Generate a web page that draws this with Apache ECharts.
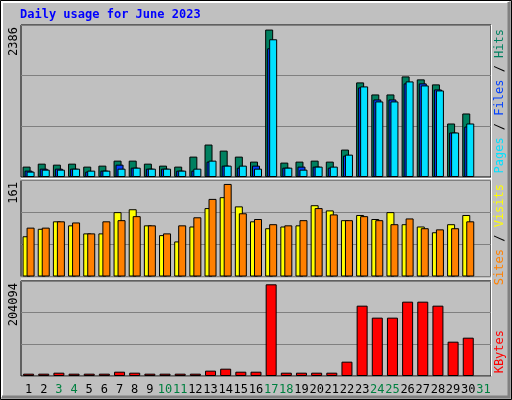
<!DOCTYPE html>
<html>
<head>
<meta charset="utf-8">
<script src="https://cdn.jsdelivr.net/npm/echarts@6/dist/echarts.min.js"></script>
<style>
  html, body { margin: 0; padding: 0; background: #c0c0c0; }
  #chart { width: 512px; height: 400px; }
</style>
</head>
<body>
<div id="chart"></div>
<script>
var days = ['1','2','3','4','5','6','7','8','9','10','11','12','13','14','15','16',
  '17','18','19','20','21','22','23','24','25','26','27','28','29','30','31'];
var weekend = ['3','4','10','11','17','18','24','25','31'];

var hits = [168,216,200,216,168,184,265,265,216,184,168,330,525,427,330,249,2386,233,249,265,249,444,1531,1336,1336,1628,1580,1499,866,1028,null];
var files = [103,135,135,135,87,103,200,151,135,135,103,103,249,184,151,184,2083,151,168,168,151,346,1450,1255,1255,1515,1515,1417,720,817,null];
var pages = [87,119,119,135,103,103,135,151,135,135,103,135,265,184,184,135,2229,151,119,168,168,362,1466,1223,1223,1547,1482,1401,720,866,null];

var sites = [70,83,96,89,75,75,112,117,89,72,61,87,119,138,122,96,84,87,89,124,115,98,107,100,112,91,87,77,91,107,null];
var visits = [85,85,96,94,75,96,98,105,89,75,89,103,135,161,110,100,91,89,98,119,108,98,105,98,91,101,84,82,84,96,null];

var kbytes = [5200,5200,7400,5200,5200,5200,9600,7400,5200,5200,5200,5200,11900,16300,9600,9600,204094,7400,7400,7400,7400,31900,156600,129900,129900,165500,165500,156600,76400,85300,null];

var maxLabels = ['2386', '161', '204094'];
var axisMax = [2460, 167, 211500];

var chart = echarts.init(document.getElementById('chart'));
var mono = 'DejaVu Sans Mono';

function yAxis(i) {
  return {
    type: 'value', gridIndex: i, min: 0, max: axisMax[i], interval: axisMax[i] / 3,
    axisLabel: { show: false }, axisLine: { show: false }, axisTick: { show: false },
    splitLine: { lineStyle: { color: '#808080', width: 1 } }
  };
}
function xAxis(i, labels) {
  return {
    type: 'category', gridIndex: i, data: days,
    axisLine: { show: false }, axisTick: { show: false },
    axisLabel: labels ? {
      show: true, interval: 0, margin: 8, fontFamily: mono, fontSize: 12,
      color: function (v) { return weekend.indexOf(v) >= 0 ? '#008040' : '#000'; }
    } : { show: false }
  };
}
function bar(name, data, ax, color, width, gap) {
  return {
    name: name, type: 'bar', xAxisIndex: ax, yAxisIndex: ax, data: data,
    barWidth: width, barGap: gap, animation: false,
    itemStyle: { color: color, borderColor: '#000', borderWidth: 1 }
  };
}
function vlabel(x, y, text, color) {
  return { type: 'text', x: x, y: y, rotation: Math.PI / 2,
    style: { text: text, fill: color, font: '12px ' + mono, align: 'right', verticalAlign: 'middle' } };
}

var grids = [
  { left: 21, right: 21, top: 25, height: 152 },
  { left: 21, right: 21, top: 180.5, height: 96 },
  { left: 21, right: 21, top: 281, height: 95 }
].map(function (g) {
  g.show = true; g.backgroundColor = '#c0c0c0'; g.borderColor = '#000'; g.borderWidth = 1;
  return g;
});

chart.setOption({
  backgroundColor: '#c0c0c0',
  grid: grids,
  xAxis: [xAxis(0, false), xAxis(1, false), xAxis(2, true)],
  yAxis: [yAxis(0), yAxis(1), yAxis(2)],
  series: [
    bar('Hits', hits, 0, '#008060', 8, '-75%'),
    bar('Files', files, 0, '#0040ff', 8, '-75%'),
    bar('Pages', pages, 0, '#00e0ff', 8, '-75%'),
    bar('Sites', sites, 1, '#ffff00', 8, '-50%'),
    bar('Visits', visits, 1, '#ff8000', 8, '-50%'),
    bar('KBytes', kbytes, 2, '#ff0000', 11, '0%')
  ],
  graphic: [
    { type: 'rect', shape: { x: 0.5, y: 0.5, width: 511, height: 399 }, style: { fill: 'none', stroke: '#000', lineWidth: 1 } },
    { type: 'polyline', shape: { points: [[2, 397], [2, 2], [509, 2]] }, style: { stroke: '#fff', lineWidth: 2 } },
    { type: 'polyline', shape: { points: [[509, 2], [509, 397], [2, 397]] }, style: { stroke: '#808080', lineWidth: 3 } },
    { type: 'text', x: 20, y: 9, style: { text: 'Daily usage for June 2023', fill: '#0000ff', font: 'bold 12px ' + mono } },
    { type: 'line', shape: { x1: 21, y1: 178.5, x2: 491, y2: 178.5 }, style: { stroke: '#fff', lineWidth: 1 } },
    { type: 'line', shape: { x1: 21, y1: 279, x2: 491, y2: 279 }, style: { stroke: '#fff', lineWidth: 1 } },
    { type: 'line', shape: { x1: 491.5, y1: 25, x2: 491.5, y2: 376 }, style: { stroke: '#fff', lineWidth: 1 } },
    { type: 'text', x: 14, y: 27, rotation: Math.PI / 2,
      style: { text: maxLabels[0], fill: '#000', font: '12px ' + mono, align: 'right', verticalAlign: 'middle' } },
    { type: 'text', x: 14, y: 182, rotation: Math.PI / 2,
      style: { text: maxLabels[1], fill: '#000', font: '12px ' + mono, align: 'right', verticalAlign: 'middle' } },
    { type: 'text', x: 14, y: 283, rotation: Math.PI / 2,
      style: { text: maxLabels[2], fill: '#000', font: '12px ' + mono, align: 'right', verticalAlign: 'middle' } },
    { type: 'text', x: 500, y: 29, rotation: Math.PI / 2,
      style: { rich: { p: { fill: '#00e0ff' }, f: { fill: '#0040ff' }, h: { fill: '#008060' }, s: { fill: '#000' } },
        text: '{p|Pages}{s| / }{f|Files}{s| / }{h|Hits}', font: '12px ' + mono, fontFamily: mono, fontSize: 12,
        align: 'right', verticalAlign: 'middle' } },
    { type: 'text', x: 500, y: 184, rotation: Math.PI / 2,
      style: { rich: { a: { fill: '#ff8000' }, b: { fill: '#ffff00' }, s: { fill: '#000' } },
        text: '{a|Sites}{s| / }{b|Visits}', fontFamily: mono, fontSize: 12, align: 'right', verticalAlign: 'middle' } },
    vlabel(500, 330, 'KBytes', '#ff0000')
  ]
});
</script>
</body>
</html>
